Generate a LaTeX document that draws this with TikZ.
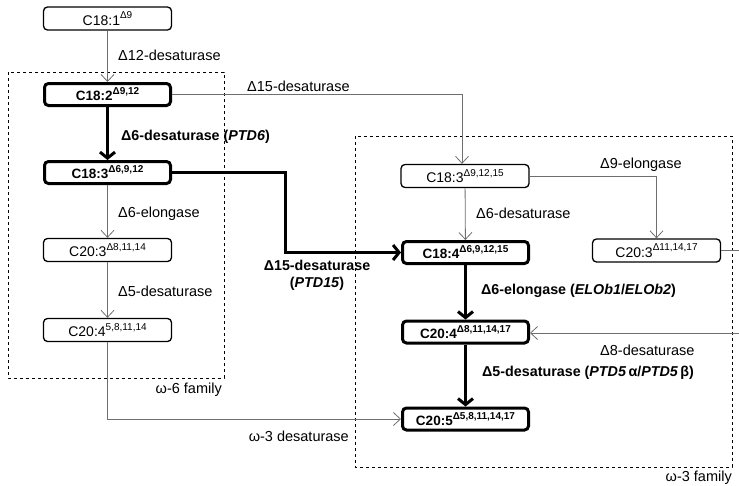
\documentclass[tikz,border=0pt]{standalone}
\usepackage{fontspec}
\setmainfont{Liberation Sans}
\usetikzlibrary{arrows.meta}
\definecolor{lg}{RGB}{110,110,110}
\newcommand{\sups}[1]{\raisebox{0.45em}{\fontsize{10}{11}\selectfont #1}}
\begin{document}
\begin{tikzpicture}[x=1pt,y=-1pt,
  thinbox/.style={draw, rounded corners=4pt, line width=1.3pt, minimum width=128pt, minimum height=23pt, inner sep=0pt, font=\fontsize{14}{16}\selectfont},
  boldbox/.style={thinbox, line width=3pt, minimum width=126pt, minimum height=22pt, font=\bfseries\fontsize{13.5}{16}\selectfont},
  thinarrow/.style={draw=lg, line width=0.8pt, -{Straight Barb[length=7pt,width=13pt]}},
  thickarrow/.style={draw=black, line width=3pt, -{Straight Barb[length=6pt,width=15pt]}},
  lbl/.style={anchor=west, inner sep=0pt, font=\fontsize{14.5}{17}\selectfont},
  blbl/.style={anchor=west, inner sep=0pt, font=\bfseries\fontsize{14.3}{17}\selectfont},
  famline/.style={draw=black, dashed, line width=0.9pt}]
\useasboundingbox (0,0) rectangle (739,485);
% family boxes
\draw[famline] (8,72) rectangle (224,378);
\draw[famline] (355,136) rectangle (732,467);
% nodes
\node[thinbox] (c181) at (107.5,18.5) {C18:1\sups{Δ9}};
\node[boldbox] (c182) at (107.5,94.5) {C18:2\sups{Δ9,12}};
\node[boldbox] (c183) at (107.5,172.5) {C18:3\sups{Δ6,9,12}};
\node[thinbox] (c203) at (107.5,250) {C20:3\sups{Δ8,11,14}};
\node[thinbox] (c204) at (107.5,330) {C20:4\sups{5,8,11,14}};
\node[thinbox] (r183) at (465,176) {C18:3\sups{Δ9,12,15}};
\node[thinbox] (r203) at (656.5,250.5) {C20:3\sups{Δ11,14,17}};
\node[boldbox] (r184) at (465.5,252.5) {C18:4\sups{Δ6,9,12,15}};
\node[boldbox] (r204) at (465.5,332) {C20:4\sups{Δ8,11,14,17}};
\node[boldbox] (r205) at (465.5,419) {C20:5\sups{Δ5,8,11,14,17}};
% helper coordinates
\coordinate (k1) at (285,0);
\coordinate (k2) at (462,0);
\coordinate (e1) at (739,250.5);
\coordinate (e2) at (739,333);
% connectors
\draw[thinarrow] (c181) -- (c182);
\draw[thickarrow] (c182) -- (c183);
\draw[thinarrow] (c183) -- (c203);
\draw[thinarrow] (c203) -- (c204);
\draw[thinarrow] (c182.east) -| (r183.north -| k2);
\draw[thickarrow] (c183.east) -- (c183.east -| k1) |- (r184.west);
\draw[thinarrow] (c204.south) |- (r205.west);
\draw[thinarrow] (r183) -- (r184);
\draw[thinarrow] (r183.east) -| (r203.north);
\draw[draw=lg, line width=0.8pt] (r203.east) -- (e1);
\draw[thinarrow] (e2) -- (r204.east |- e2);
\draw[thickarrow] (r184) -- (r204);
\draw[thickarrow] (r204) -- (r205);
% labels
\node[lbl] (l1) at (118,55) {Δ12-desaturase};
\node[lbl] (l2) at (247,86) {Δ15-desaturase};
\node[blbl] (l3) at (121,137) {Δ6-desaturase (\textit{PTD6})};
\node[lbl] (l4) at (118,214) {Δ6-elongase};
\node[lbl] (l5) at (118,291) {Δ5-desaturase};
\node[blbl, anchor=center, align=center] (l6) at (317,275) {Δ15-desaturase\\(\textit{PTD15})};
\node[lbl, anchor=east] (l7) at (222,390) {ω-6 family};
\node[lbl, anchor=east] (l8) at (349,436) {ω-3 desaturase};
\node[lbl] (l9) at (600,165) {Δ9-elongase};
\node[lbl] (l10) at (476,213) {Δ6-desaturase};
\node[blbl] (l11) at (481,291) {Δ6-elongase (\textit{ELOb1}/\textit{ELOb2})};
\node[lbl] (l12) at (600,350) {Δ8-desaturase};
\node[blbl] (l13) at (482,373) {Δ5-desaturase (\textit{PTD5}\,α/\textit{PTD5}\,β)};
\node[lbl, anchor=east] (l14) at (732,478) {ω-3 family};
\end{tikzpicture}
\end{document}
